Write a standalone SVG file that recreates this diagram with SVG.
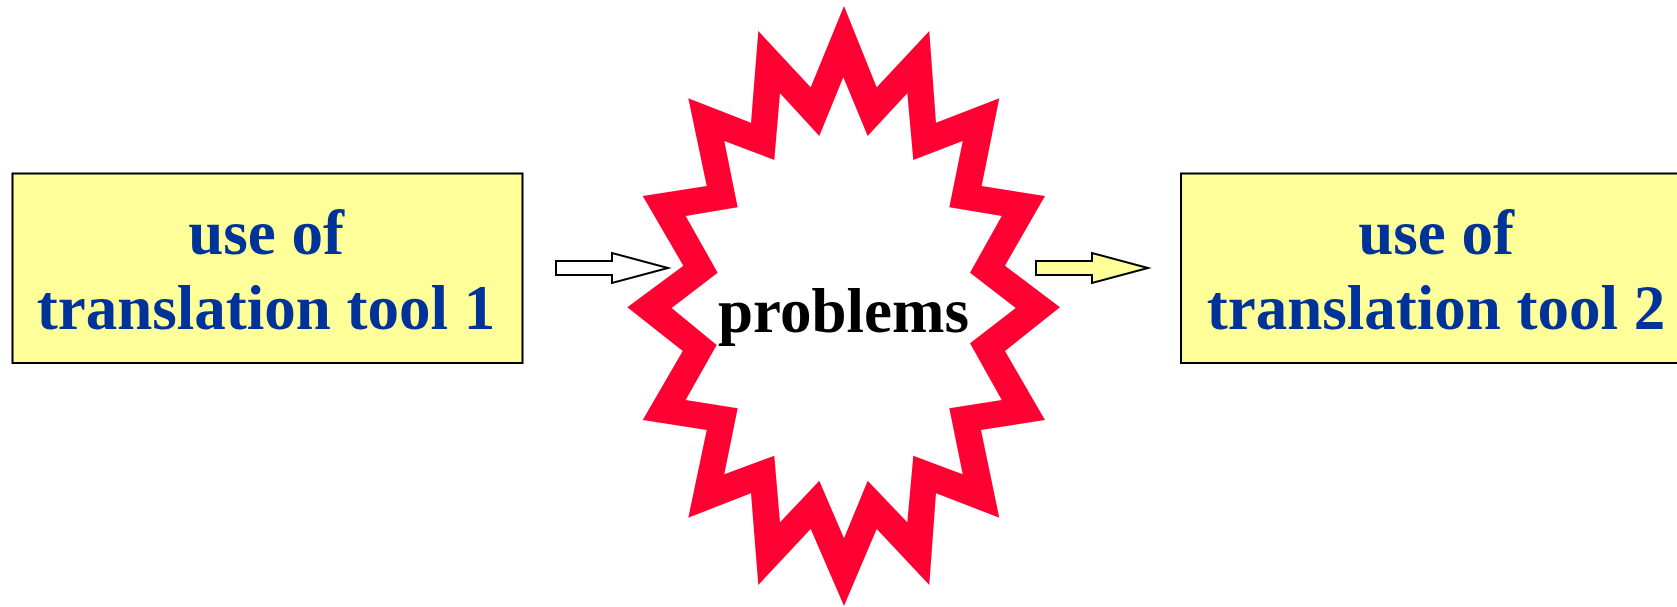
<svg xmlns="http://www.w3.org/2000/svg" width="1677" height="607" viewBox="0 0 1677 607">
<style>
.box{fill:#FFFF99;stroke:#000;stroke-width:2}
.lbl{font-family:"Liberation Serif","Times New Roman",serif;font-weight:bold;font-size:63px;fill:#003399;text-anchor:middle}
.prob{font-family:"Liberation Serif","Times New Roman",serif;font-weight:bold;font-size:63px;fill:#000;text-anchor:middle}
.arr{stroke:#000;stroke-width:2;stroke-linejoin:miter}
</style>
<rect width="1677" height="607" fill="#fff"/>
<g id="tool1">
<rect class="box" x="12.5" y="173.5" width="510" height="189.5"/>
<text class="lbl" x="266" y="254">use of</text>
<text class="lbl" x="266" y="329">translation tool 1</text>
</g>
<g id="problems">
<polygon fill="#FF0033" points="844,6 876.7,87.3 929.3,31 936,122.7 999.3,98.3 981.7,186 1045,196 1005,265.7 1060,307.3 1005,351 1045,420 981,430 999.3,517.7 936,493.3 929.3,585 876.7,529 844,606 810.7,529 758.3,585 751,493.3 688.3,517.7 706.7,430 642.7,420 682.7,351 627.3,307.3 683.3,265.7 642.7,196 706.7,186 688.3,98.3 751,122.7 758.3,31 810.7,87.3"/>
<polygon fill="#fff" points="843.3,77.3 867.7,136 907.3,93.3 913.3,160 962.7,141 949.3,207.3 1001.7,216 970,272.7 1015.7,308 970,343.3 1001.7,400 949.3,408.3 962.7,474.3 913.3,455.7 907.3,522.3 867.7,480.7 844,538.3 819.3,480.7 780,522.3 774.3,455.7 724.3,474.3 737.7,408.3 685.7,400 716.7,345 671.7,308 717.7,272.7 685.7,216 737.7,207.3 724.3,141 774.3,160 780,93.3 819.3,136"/>
<text class="prob" x="843.5" y="332">problems</text>
</g>
<g id="tool2">
<rect class="box" x="1181" y="173.5" width="510" height="189.5"/>
<text class="lbl" x="1436" y="254">use of</text>
<text class="lbl" x="1436" y="329">translation tool 2</text>
</g>
<g id="connectors">
<polygon class="arr" fill="#fff" points="556,261 612,261 612,253 668,268 612,283 612,275 556,275"/>
<polygon class="arr" fill="#FFFF99" points="1036,261 1092,261 1092,253 1148,268 1092,283 1092,275 1036,275"/>
</g>
</svg>
